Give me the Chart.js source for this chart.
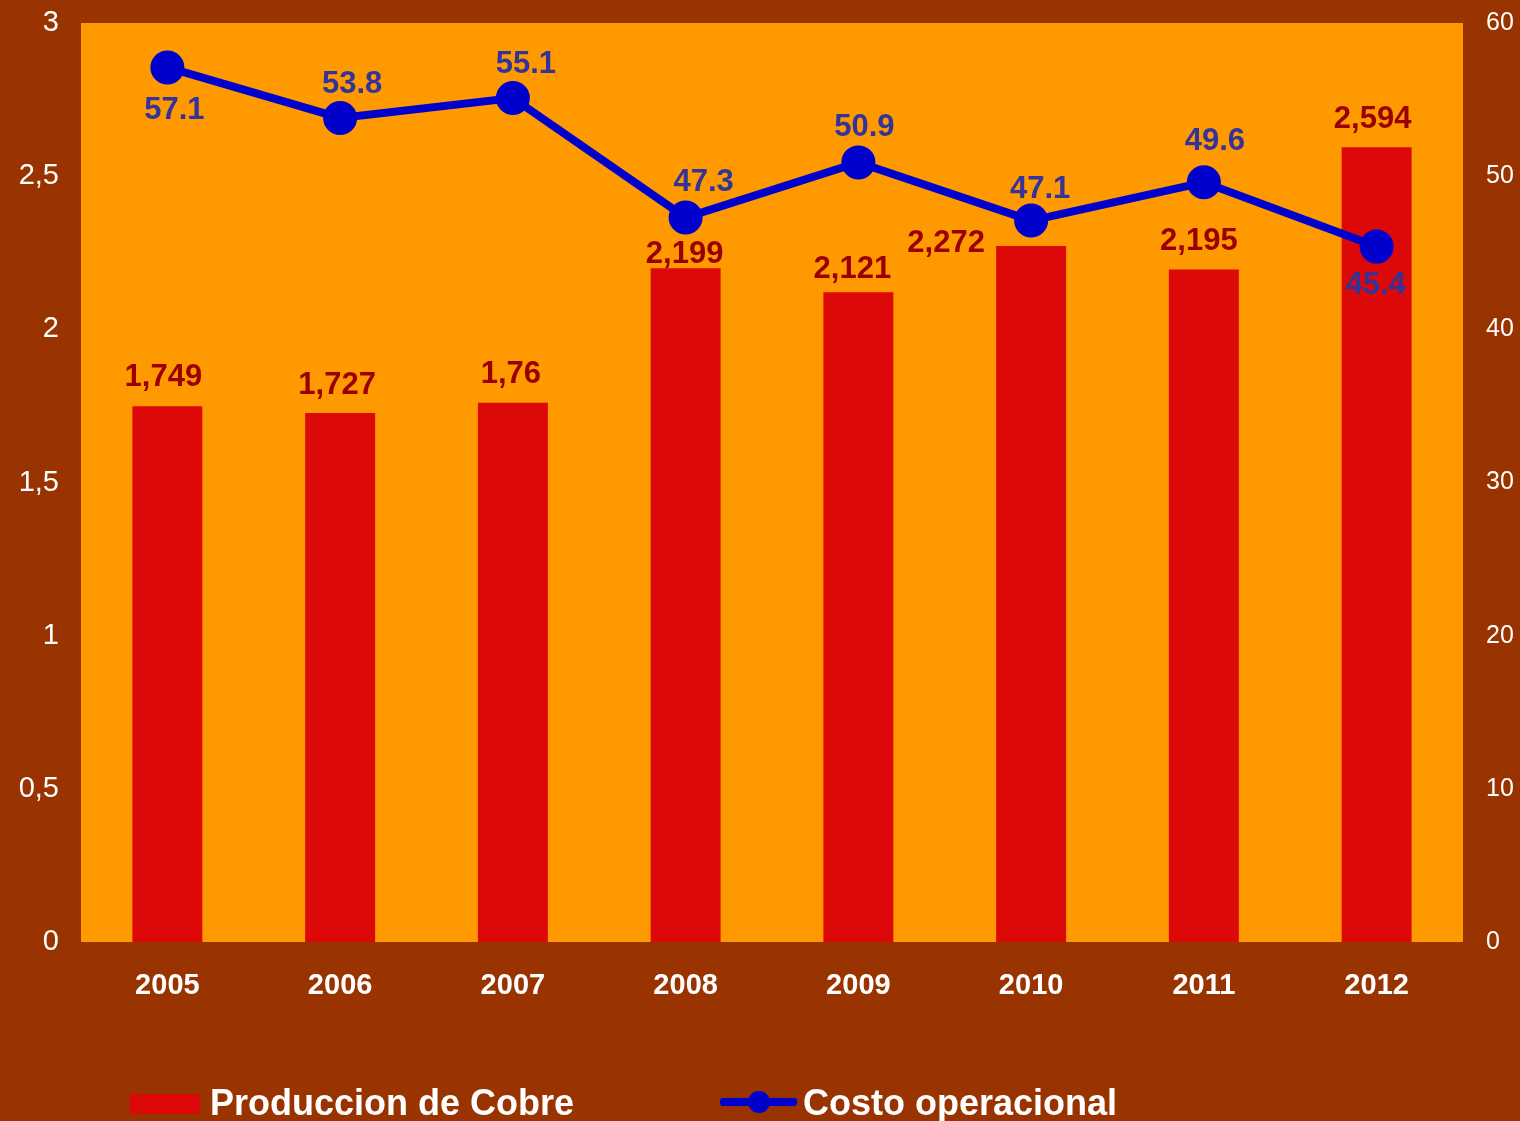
<!DOCTYPE html>
<html>
<head>
<meta charset="utf-8">
<script src="https://cdn.jsdelivr.net/npm/chart.js@4/dist/chart.umd.min.js"></script>
<style>
  html, body { margin: 0; padding: 0; background: #993300; overflow: hidden; }
  #wrap { position: relative; width: 1520px; height: 1121px; }
  #grafico { position: absolute; left: 0; top: 0; }
  .leg { position: absolute; font: bold 36px "Liberation Sans", Arial, sans-serif; color: #fff; line-height: 36px; white-space: nowrap; }
  .caja { position: absolute; left: 130px; top: 1094px; width: 70px; height: 20px; background: #DD0808; }
  .linea { position: absolute; left: 720px; top: 1098px; width: 77px; height: 8px; background: #0000CC; border-radius: 3px; }
  .punto { position: absolute; left: 748px; top: 1091px; width: 22px; height: 22px; border-radius: 50%; background: #0000CC; }
</style>
</head>
<body>
<div id="wrap">
  <canvas id="grafico" width="1520" height="1121"></canvas>
  <div class="caja"></div>
  <div class="leg" style="left:210px; top:1085px;">Produccion de Cobre</div>
  <div class="linea"></div>
  <div class="punto"></div>
  <div class="leg" style="left:803px; top:1085px;">Costo operacional</div>
</div>
<script>
const anios = ['2005', '2006', '2007', '2008', '2009', '2010', '2011', '2012'];
const produccion = [1.749, 1.727, 1.76, 2.199, 2.121, 2.272, 2.195, 2.594];
const costo = [57.1, 53.8, 55.1, 47.3, 50.9, 47.1, 49.6, 45.4];

// desplazamiento de las etiquetas (dx, dy) respecto a cada barra / punto
const offBarras = [[-4, -29], [-3, -28], [-2, -28], [-1, -14], [-6, -23], [-85, -3], [-5, -28], [-4, -28]];
const offLinea = [[7, 43], [12, -34], [13, -34], [18, -35], [6, -35], [9, -31], [11, -41], [-1, 39]];

const fondoArea = {
  id: 'fondoArea',
  beforeDraw(chart) {
    const { ctx, chartArea: a } = chart;
    ctx.save();
    ctx.fillStyle = '#FF9900';
    ctx.fillRect(a.left, a.top, a.right - a.left, a.bottom - a.top);
    ctx.restore();
  }
};

const etiquetas = {
  id: 'etiquetas',
  afterDatasetsDraw(chart) {
    const ctx = chart.ctx;
    ctx.save();
    ctx.font = 'bold 31px "Liberation Sans", Arial, sans-serif';
    ctx.textAlign = 'center';
    ctx.textBaseline = 'middle';

    const barras = chart.getDatasetMeta(0).data;
    ctx.fillStyle = '#990000';
    barras.forEach((el, i) => {
      const txt = String(produccion[i]).replace('.', ',');
      ctx.fillText(txt, el.x + offBarras[i][0], el.y + offBarras[i][1]);
    });

    const puntos = chart.getDatasetMeta(1).data;
    ctx.fillStyle = '#333399';
    puntos.forEach((el, i) => {
      ctx.fillText(costo[i].toFixed(1), el.x + offLinea[i][0], el.y + offLinea[i][1]);
    });
    ctx.restore();
  }
};

new Chart(document.getElementById('grafico'), {
  data: {
    labels: anios,
    datasets: [
      {
        type: 'bar',
        label: 'Produccion de Cobre',
        data: produccion,
        backgroundColor: '#DD0808',
        yAxisID: 'y',
        barPercentage: 0.405,
        categoryPercentage: 1,
        order: 2
      },
      {
        type: 'line',
        label: 'Costo operacional',
        data: costo,
        borderColor: '#0000CC',
        backgroundColor: '#0000CC',
        borderWidth: 8,
        pointRadius: 13,
        pointHoverRadius: 13,
        tension: 0,
        yAxisID: 'y1',
        order: 1
      }
    ]
  },
  options: {
    responsive: false,
    animation: false,
    layout: { padding: { top: 23, left: 0, right: 0, bottom: 0 } },
    plugins: { legend: { display: false }, tooltip: { enabled: false } },
    scales: {
      x: {
        grid: { display: false, drawTicks: false },
        border: { display: false },
        ticks: { color: '#fff', padding: 27, font: { family: '"Liberation Sans", Arial, sans-serif', size: 29, weight: 'bold' } },
        afterFit(s) { s.height = 179; }
      },
      y: {
        position: 'left',
        min: 0, max: 3,
        grid: { display: false, drawTicks: false },
        border: { display: false },
        ticks: {
          stepSize: 0.5,
          color: '#fff',
          padding: 22,
          font: { family: '"Liberation Sans", Arial, sans-serif', size: 29 },
          callback: v => String(v).replace('.', ',')
        },
        afterFit(s) { s.width = 81; s.paddingTop = 0; s.paddingBottom = 0; }
      },
      y1: {
        position: 'right',
        min: 0, max: 60,
        grid: { display: false, drawTicks: false },
        border: { display: false },
        ticks: {
          stepSize: 10,
          color: '#fff',
          padding: 23,
          font: { family: '"Liberation Sans", Arial, sans-serif', size: 25 }
        },
        afterFit(s) { s.width = 57; s.paddingTop = 0; s.paddingBottom = 0; }
      }
    }
  },
  plugins: [fondoArea, etiquetas]
});
</script>
</body>
</html>
